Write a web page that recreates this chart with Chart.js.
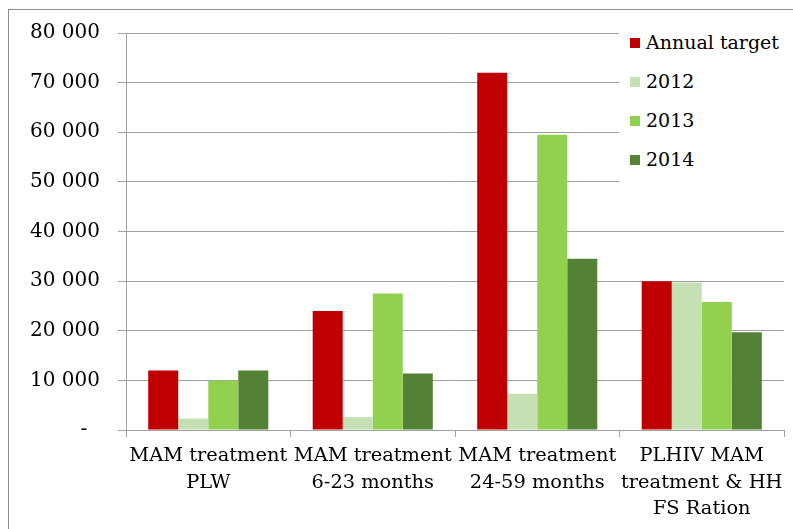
<!DOCTYPE html>
<html>
<head>
<meta charset="utf-8">
<script src="https://cdn.jsdelivr.net/npm/chart.js@4/dist/chart.umd.min.js"></script>
<style>
  html, body { margin: 0; padding: 0; background: #fff; }
  #wrap { position: relative; width: 793px; height: 529px; overflow: hidden; }
  #frame { position: absolute; left: 8px; top: 9px; width: 800px; height: 540px;
           border: 1px solid #8c8c8c; box-sizing: border-box; }
  canvas { position: absolute; left: 0; top: 0; }
  #legend { position: absolute; left: 619px; top: 20px; width: 170px; height: 170px;
            background: #fff; font-family: "DejaVu Serif", serif; font-size: 19px; color: #000; }
  .item { position: absolute; left: 11px; height: 24px; line-height: 24px; white-space: nowrap; }
  .sw { display: inline-block; width: 10px; height: 10px; margin-right: 6px; vertical-align: 1px; }
</style>
</head>
<body>
<div id="wrap">
  <div id="frame"></div>
  <canvas id="c" width="793" height="529"></canvas>
  <div id="legend"></div>
</div>
<script>
const categories = [
  ["MAM treatment", "PLW"],
  ["MAM treatment", "6-23 months"],
  ["MAM treatment", "24-59 months"],
  ["PLHIV MAM", "treatment & HH", "FS Ration"]
];
const seriesNames = ["Annual target", "2012", "2013", "2014"];
const annualTarget = [12000, 24000, 72000, 30000];
const y2012 = [2300, 2600, 7300, 29700];
const y2013 = [10000, 27500, 59500, 25800];
const y2014 = [12000, 11400, 34500, 19700];
const yTicks = [0, 10000, 20000, 30000, 40000, 50000, 60000, 70000, 80000];
const colors = ["#C00000", "#C5E0B3", "#92D050", "#538135"];

const serif = "DejaVu Serif";
const values = [annualTarget, y2012, y2013, y2014];

const chart = new Chart(document.getElementById("c"), {
  type: "bar",
  data: {
    labels: categories,
    datasets: seriesNames.map((name, i) => ({
      label: name,
      data: values[i],
      backgroundColor: colors[i],
      borderWidth: 0,
      barPercentage: 1,
      categoryPercentage: 0.73
    }))
  },
  options: {
    responsive: false,
    animation: false,
    layout: { padding: { top: 33, right: 9, left: 0, bottom: 0 } },
    plugins: { legend: { display: false }, tooltip: { enabled: false } },
    scales: {
      x: {
        grid: { display: true, drawOnChartArea: false, drawTicks: true, tickLength: 7,
                color: "#A0A0A0", lineWidth: 1 },
        border: { display: true, color: "#A0A0A0", width: 1 },
        ticks: { color: "#000", maxRotation: 0, autoSkip: false, padding: 6,
                 font: { family: serif, size: 19.4, lineHeight: 1.36 } },
        afterFit: (s) => { s.height = 99; }
      },
      y: {
        min: 0, max: 80000,
        afterBuildTicks: (s) => { s.ticks = yTicks.map(v => ({ value: v })); },
        grid: { color: "#A0A0A0", lineWidth: 1, tickLength: 8 },
        border: { display: true, color: "#A0A0A0", width: 1 },
        ticks: {
          color: "#000", padding: 18,
          font: { family: serif, size: 20 },
          callback: (v) => v === 0 ? "-  " : String(v).replace(/\B(?=(\d{3})+(?!\d))/g, " ")
        },
        afterFit: (s) => { s.width = 126; }
      }
    }
  }
});

const legend = document.getElementById("legend");
seriesNames.forEach((name, i) => {
  const d = document.createElement("div");
  d.className = "item";
  d.style.top = (10 + i * 39) + "px";
  d.innerHTML = '<span class="sw" style="background:' + colors[i] + '"></span>' + name;
  legend.appendChild(d);
});
</script>
</body>
</html>
